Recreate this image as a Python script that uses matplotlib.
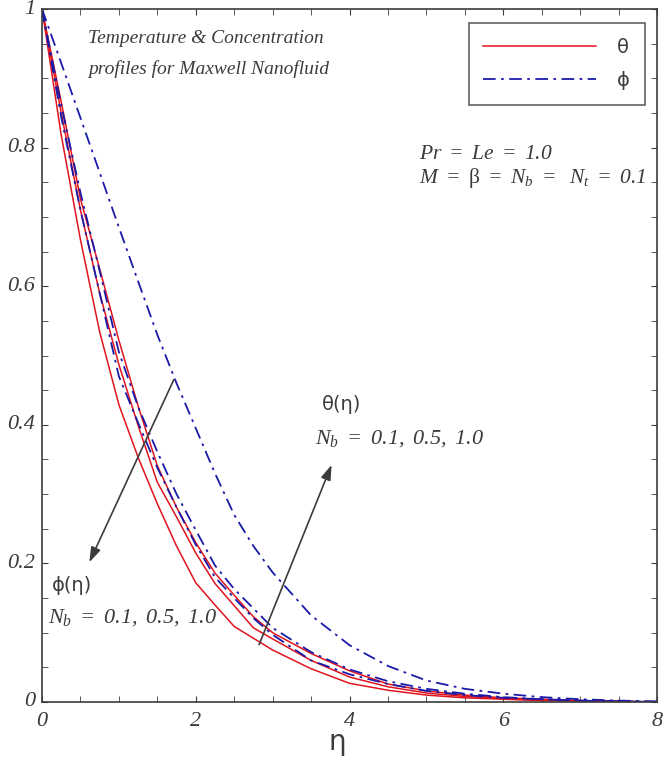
import matplotlib
matplotlib.use("Agg")
import matplotlib.pyplot as plt
from matplotlib.ticker import MultipleLocator

plt.rcParams['mathtext.fontset'] = 'custom'
plt.rcParams['mathtext.rm'] = 'Liberation Serif:italic'
plt.rcParams['mathtext.it'] = 'Liberation Serif:italic'

eta = [0.0, 0.25, 0.5, 0.75, 1.0, 1.25, 1.5, 1.75, 2.0, 2.25, 2.5, 2.75,
       3.0, 3.5, 4.0, 4.5, 5.0, 5.5, 6.0, 6.5, 7.0, 7.5, 8.0]

# theta(eta) for Nb = 0.1, 0.5, 1.0
theta_nb01 = [1.0, 0.818, 0.667, 0.534, 0.429, 0.353, 0.286, 0.225, 0.172, 0.140, 0.109, 0.092,
              0.075, 0.048, 0.027, 0.017, 0.010, 0.006, 0.004, 0.002, 0.001, 0.0005, 0.0]
theta_nb05 = [1.0, 0.850, 0.710, 0.590, 0.487, 0.399, 0.317, 0.267, 0.215, 0.171, 0.139, 0.107,
              0.091, 0.060, 0.036, 0.022, 0.013, 0.008, 0.005, 0.003, 0.002, 0.001, 0.0]
theta_nb10 = [1.0, 0.866, 0.726, 0.625, 0.522, 0.427, 0.341, 0.281, 0.230, 0.186, 0.154, 0.123,
              0.100, 0.070, 0.045, 0.026, 0.016, 0.010, 0.006, 0.004, 0.002, 0.001, 0.0]

# phi(eta) for Nb = 0.1, 0.5, 1.0
phi_nb01 = [1.0, 0.922, 0.843, 0.764, 0.685, 0.607, 0.530, 0.460, 0.395, 0.330, 0.270, 0.225,
            0.187, 0.125, 0.082, 0.052, 0.031, 0.019, 0.012, 0.007, 0.004, 0.002, 0.001]
phi_nb05 = [1.0, 0.861, 0.735, 0.622, 0.505, 0.426, 0.361, 0.300, 0.248, 0.197, 0.163, 0.135,
            0.107, 0.072, 0.047, 0.030, 0.019, 0.012, 0.007, 0.004, 0.002, 0.001, 0.0]
phi_nb10 = [1.0, 0.844, 0.710, 0.590, 0.470, 0.403, 0.338, 0.281, 0.227, 0.180, 0.150, 0.121,
            0.097, 0.060, 0.040, 0.026, 0.016, 0.010, 0.006, 0.004, 0.002, 0.001, 0.0]

xtick_vals = [0, 2, 4, 6, 8]
ytick_vals = [0, 0.2, 0.4, 0.6, 0.8, 1.0]
ytick_labels = ['0', '0.2', '0.4', '0.6', '0.8', '1']

gray = '#3c3c3c'
red = '#e0141e'
blue = '#1a1aa8'
dashdot = (0, (7, 3, 1.5, 3))

fig = plt.figure(figsize=(6.64, 7.59), dpi=100)
ax = fig.add_axes([0.0633, 0.0751, 0.9262, 0.9129])

ax.plot(eta, theta_nb01, color=red, lw=1.1, label='θ')
ax.plot(eta, theta_nb05, color=red, lw=1.1)
ax.plot(eta, theta_nb10, color=red, lw=1.1)
ax.plot(eta, phi_nb01, color=blue, lw=1.3, ls=dashdot, label='ϕ')
ax.plot(eta, phi_nb05, color=blue, lw=1.3, ls=dashdot)
ax.plot(eta, phi_nb10, color=blue, lw=1.3, ls=dashdot)

ax.set_xlim(0, 8)
ax.set_ylim(0, 1)
ax.xaxis.set_major_locator(MultipleLocator(2))
ax.xaxis.set_minor_locator(MultipleLocator(0.5))
ax.yaxis.set_major_locator(MultipleLocator(0.2))
ax.yaxis.set_minor_locator(MultipleLocator(0.05))
ax.tick_params(which='both', direction='in', top=True, right=True, color=gray, length=4)
ax.set_xticklabels([])
ax.set_yticklabels([])
for v in xtick_vals:
    ax.text(v, -0.014, str(v), ha='center', va='top', fontsize=16, color=gray,
            family='Liberation Serif', style='italic')
for v, s in zip(ytick_vals, ytick_labels):
    ax.text(-0.09, v, s, ha='right', va='center', fontsize=16, color=gray,
            family='Liberation Serif', style='italic')
for sp in ax.spines.values():
    sp.set_color(gray)
    sp.set_linewidth(1.2)

# x-axis label placed below the hand-drawn tick labels
fig.text(0.508, 0.012, 'η', fontsize=20, color=gray, ha='center', va='baseline')

leg = ax.legend(loc='upper right', bbox_to_anchor=(0.980, 0.980), borderaxespad=0,
                handlelength=5.8, fontsize=14, frameon=True, fancybox=False,
                borderpad=0.75, labelspacing=0.75, handletextpad=1.1)
leg.get_frame().set_edgecolor(gray)
leg.get_frame().set_linewidth(1.2)
for t in leg.get_texts():
    t.set_color(gray)

ax.text(0.6, 0.957, 'Temperature & Concentration', fontsize=14, color=gray,
        family='Liberation Serif', style='italic', va='center')
ax.text(0.6, 0.913, 'profiles for Maxwell Nanofluid', fontsize=14, color=gray,
        family='Liberation Serif', style='italic', va='center')

ax.text(4.9, 0.792, r'$Pr\ =\ Le\ =\ 1.0$', fontsize=15.5, color=gray, va='center')
ax.text(4.9, 0.756, r'$M\ =$ β $=\ N_b\ =\ \ N_t\ =\ 0.1$', fontsize=15.5, color=gray,
        va='center', family='Liberation Serif')

ax.text(3.64, 0.43, 'θ(η)', fontsize=14, color=gray, va='center')
ax.text(3.55, 0.38, r'$N_b\ =\ 0.1,\ 0.5,\ 1.0$', fontsize=16, color=gray, va='center')
ax.text(0.13, 0.168, 'ϕ(η)', fontsize=14, color=gray, va='center')
ax.text(0.08, 0.122, r'$N_b\ =\ 0.1,\ 0.5,\ 1.0$', fontsize=16, color=gray, va='center')

arrow = dict(arrowstyle='-|>,head_length=0.9,head_width=0.3', color=gray, lw=1.2)
ax.annotate('', xy=(0.60, 0.198), xytext=(1.73, 0.469), arrowprops=arrow)
ax.annotate('', xy=(3.78, 0.346), xytext=(2.81, 0.079), arrowprops=arrow)

fig.savefig('out.png', dpi=100)
